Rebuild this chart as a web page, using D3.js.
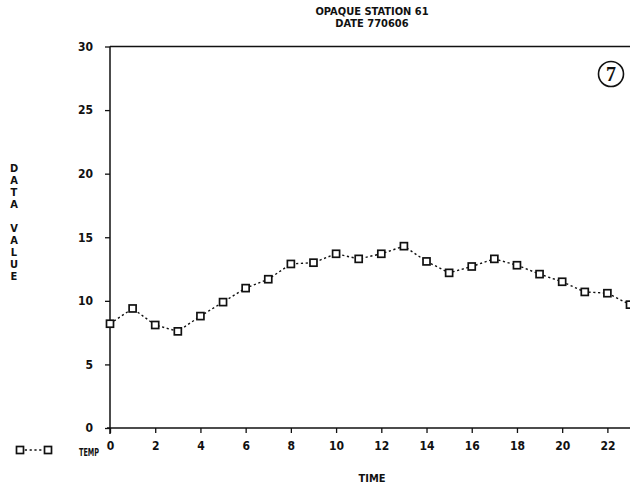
<!DOCTYPE html>
<html>
<head>
<meta charset="utf-8">
<script src="https://cdn.jsdelivr.net/npm/d3@7/dist/d3.min.js"></script>
<style>
  html, body { margin: 0; padding: 0; background: #fff; }
  svg { display: block; }
  .plot-text { font-family: "DejaVu Sans Condensed", "DejaVu Sans", sans-serif; font-weight: bold; fill: #111; }
</style>
</head>
<body>
<svg id="chart" width="630" height="488"></svg>
<script>
// Hourly temperature readings for the station
const hours = d3.range(0, 24);
const temp = [8.2, 9.4, 8.1, 7.6, 8.8, 9.9, 11.0, 11.7, 12.9, 13.0, 13.7, 13.3,
              13.7, 14.3, 13.1, 12.2, 12.7, 13.3, 12.8, 12.1, 11.5, 10.7, 10.6, 9.7];
const xTicks = [0, 2, 4, 6, 8, 10, 12, 14, 16, 18, 20, 22];
const yTicks = [0, 5, 10, 15, 20, 25, 30];
const titleLines = ["OPAQUE STATION 61", "DATE 770606"];
const yTitle = ["D", "A", "T", "A", "", "V", "A", "L", "U", "E"];
const seriesName = "TEMP";
const plateNumber = "7";

const svg = d3.select("#chart");
const ink = "#111";

const x = d3.scaleLinear().domain([0, 23]).range([110, 630]);
const y = d3.scaleLinear().domain([0, 30]).range([428, 46.5]);

// Title
svg.selectAll("text.title").data(titleLines).join("text")
  .attr("class", "plot-text title")
  .attr("x", 372).attr("y", (d, i) => 15 + i * 12)
  .attr("text-anchor", "middle")
  .attr("font-size", 11)
  .text(d => d);

// Top frame line
svg.append("line")
  .attr("x1", x(0)).attr("x2", 630)
  .attr("y1", y(30)).attr("y2", y(30))
  .attr("stroke", ink).attr("stroke-width", 1.5);

// Y axis
const yAxis = svg.append("g")
  .attr("transform", `translate(${x(0)},0)`)
  .call(d3.axisLeft(y).tickValues(yTicks).tickSize(5).tickPadding(12).tickFormat(d3.format("d")));
yAxis.select(".domain").attr("stroke", ink).attr("stroke-width", 1.5)
  .attr("d", `M0,${y(30)}V${y(0) + 6}`);
yAxis.selectAll(".tick line").attr("stroke", ink).attr("stroke-width", 1.3);
yAxis.selectAll(".tick text").attr("class", "plot-text").attr("font-size", 12);

// X axis
const xAxis = svg.append("g")
  .attr("transform", `translate(0,${y(0)})`)
  .call(d3.axisBottom(x).tickValues(xTicks).tickSize(5).tickPadding(8).tickFormat(d3.format("d")));
xAxis.select(".domain").attr("stroke", ink).attr("stroke-width", 1.5)
  .attr("d", `M${x(0) - 3},0H630`);
xAxis.selectAll(".tick line").attr("stroke", ink).attr("stroke-width", 1.3);
xAxis.selectAll(".tick text").attr("class", "plot-text").attr("font-size", 12);

// Axis titles
svg.append("text").attr("class", "plot-text")
  .attr("x", 372).attr("y", 482).attr("text-anchor", "middle")
  .attr("font-size", 11).text("TIME");

svg.selectAll("text.ytitle").data(yTitle).join("text")
  .attr("class", "plot-text ytitle")
  .attr("x", 14).attr("y", (d, i) => 172 + i * 12)
  .attr("text-anchor", "middle")
  .attr("font-size", 11)
  .text(d => d);

// Temperature series: dashed line with square markers
const line = d3.line().x((d, i) => x(hours[i])).y(d => y(d));
svg.append("path")
  .datum(temp)
  .attr("d", line)
  .attr("fill", "none")
  .attr("stroke", ink)
  .attr("stroke-width", 1.4)
  .attr("stroke-dasharray", "2.2,2.6");

const ms = 7;
svg.selectAll("rect.marker").data(temp).join("rect")
  .attr("class", "marker")
  .attr("x", (d, i) => x(hours[i]) - ms / 2)
  .attr("y", d => y(d) - ms / 2)
  .attr("width", ms).attr("height", ms)
  .attr("fill", "#fff")
  .attr("stroke", ink).attr("stroke-width", 1.7);

// Legend
const lg = svg.append("g");
lg.append("line")
  .attr("x1", 20).attr("x2", 48).attr("y1", 450).attr("y2", 450)
  .attr("stroke", ink).attr("stroke-width", 1.4).attr("stroke-dasharray", "2.2,2.6");
[20, 48].forEach(cx => {
  lg.append("rect")
    .attr("x", cx - ms / 2).attr("y", 450 - ms / 2)
    .attr("width", ms).attr("height", ms)
    .attr("fill", "#fff").attr("stroke", ink).attr("stroke-width", 1.7);
});
lg.append("text").attr("class", "plot-text")
  .attr("x", 79).attr("y", 456).attr("font-size", 10)
  .attr("textLength", 20).attr("lengthAdjust", "spacingAndGlyphs")
  .text(seriesName);

// Circled plate number
svg.append("circle")
  .attr("cx", 611).attr("cy", 74).attr("r", 12.5)
  .attr("fill", "none").attr("stroke", ink).attr("stroke-width", 1.6);
svg.append("text")
  .attr("x", 611).attr("y", 81).attr("text-anchor", "middle")
  .attr("font-family", "'Liberation Serif', serif").attr("font-weight", "bold")
  .attr("font-size", 20).attr("fill", ink)
  .text(plateNumber);
</script>
</body>
</html>
